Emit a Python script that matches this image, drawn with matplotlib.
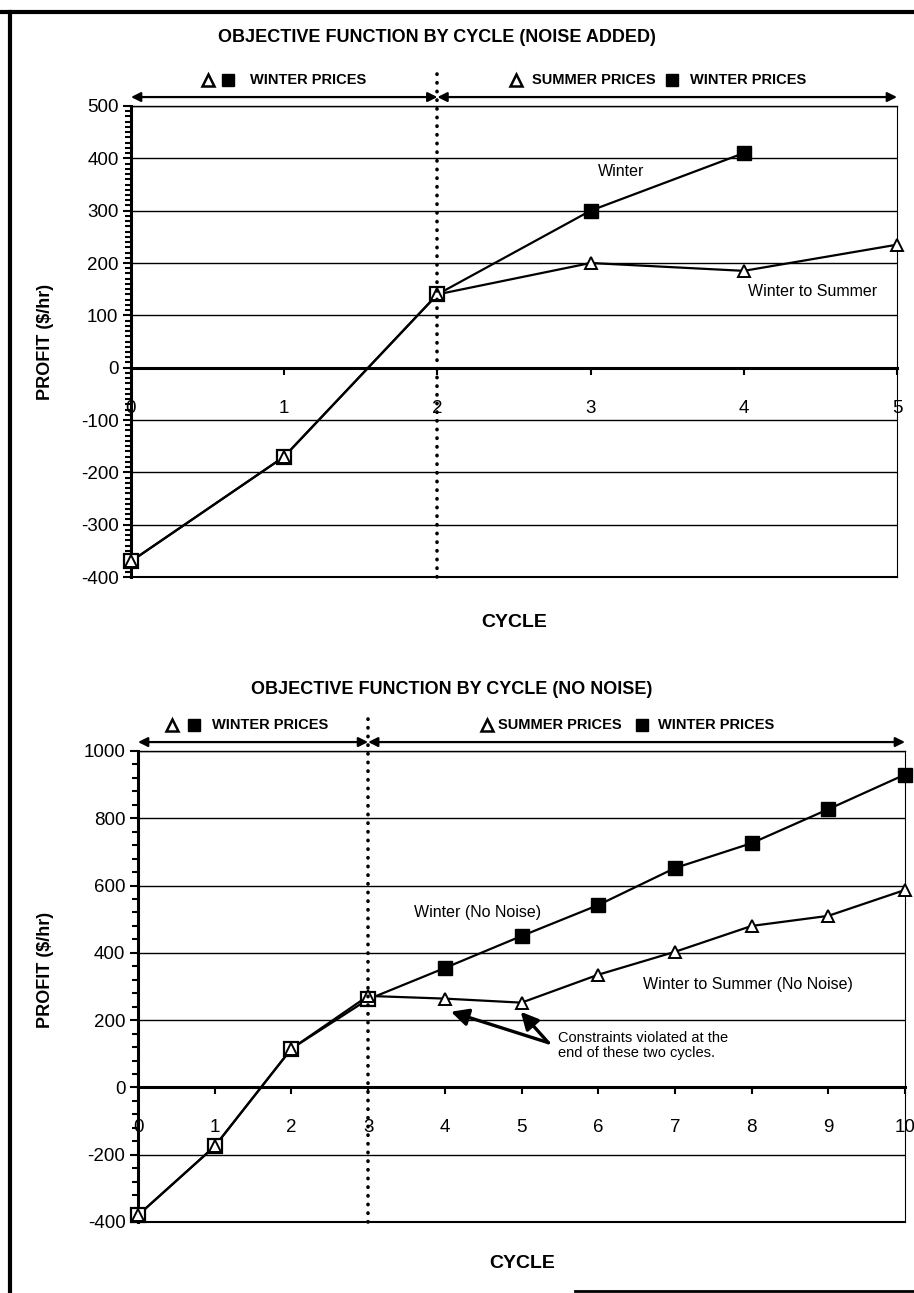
import numpy as np
import matplotlib
matplotlib.use('Agg')
import matplotlib.pyplot as plt
from matplotlib.lines import Line2D
from matplotlib.ticker import MultipleLocator

plt.rcParams['font.family'] = ['Liberation Sans', 'DejaVu Sans']
plt.rcParams['axes.unicode_minus'] = False

# noise added run
cycles_top = [0, 1, 2, 3, 4, 5]
winter_top = [-370, -170, 140, 300, 410]
summer_top = [-370, -170, 140, 200, 185, 235]
switch_top = 2

# no noise run
cycles_bot = [0, 1, 2, 3, 4, 5, 6, 7, 8, 9, 10]
winter_bot = [-380, -175, 115, 262, 355, 450, 542, 652, 726, 827, 930]
summer_bot = [-380, -175, 115, 272, 264, 252, 335, 403, 480, 510, 587]
switch_bot = 3

W, H = 914, 1293
fig = plt.figure(figsize=(W / 100, H / 100), dpi=100)


def fx(px):
    return px / W


def fy(py):
    return 1 - py / H


def draw_panel(ax, cycles, winter, summer, switch, ylim, major, minor, labels):
    x_w = cycles[:len(winter)]
    ax.set_xlim(cycles[0], cycles[-1])
    ax.set_ylim(*ylim)
    ax.yaxis.set_major_locator(MultipleLocator(major))
    ax.yaxis.set_minor_locator(MultipleLocator(minor))
    ax.xaxis.set_major_locator(MultipleLocator(1))
    ax.grid(axis='y', color='black', linewidth=1.0)
    ax.set_axisbelow(True)
    ax.axhline(ylim[0], color='black', linewidth=1.5, clip_on=False)
    ax.spines['bottom'].set_position(('data', 0))
    ax.spines['bottom'].set_linewidth(2.2)
    ax.spines['left'].set_linewidth(2.2)
    ax.spines['right'].set_linewidth(0.8)
    ax.spines['top'].set_linewidth(1.0)
    ax.tick_params(axis='y', which='major', direction='out', length=6, width=1.5,
                   labelsize=13.5, pad=3)
    ax.tick_params(axis='y', which='minor', direction='out', length=4, width=1.5)
    ax.tick_params(axis='x', direction='out', length=5, width=1.5, labelsize=13.5, pad=18)

    # lines
    ax.plot(x_w, winter, color='black', linewidth=1.6, zorder=3)
    ax.plot(cycles, summer, color='black', linewidth=1.6, zorder=3)
    # markers: shared cycles drawn open, winter-only filled squares
    ax.plot(x_w[:switch + 1], winter[:switch + 1], 's', ms=10.5, mfc='white', mec='black',
            mew=1.6, zorder=4, clip_on=False)
    ax.plot(x_w[switch + 1:], winter[switch + 1:], 's', ms=10.5, mfc='black', mec='black',
            zorder=4, clip_on=False)
    ax.plot(cycles, summer, '^', ms=9, mfc='white', mec='black', mew=1.4, zorder=5,
            clip_on=False)

    # switch marker line
    top_y = ylim[1] + (ylim[1] - ylim[0]) * 0.08
    ax.plot([switch, switch], [ylim[0], top_y], color='black', linewidth=2.6,
            linestyle=(0, (0.1, 2.3)), dash_capstyle='round', clip_on=False, zorder=6)

    # price period arrows
    arr_y = ylim[1] + (ylim[1] - ylim[0]) * 0.019
    for x0, x1 in [(cycles[0], switch), (switch, cycles[-1])]:
        ax.annotate('', xy=(x0, arr_y), xytext=(x1, arr_y), annotation_clip=False,
                    arrowprops=dict(arrowstyle='<|-|>', color='black', lw=1.6,
                                    mutation_scale=14, shrinkA=0, shrinkB=0))

    lab_y = ylim[1] + (ylim[1] - ylim[0]) * 0.055
    for x, kind in labels:
        if kind == 'tri':
            ax.plot([x], [lab_y], '^', ms=9, mfc='white', mec='black', mew=1.8, clip_on=False)
        elif kind == 'sq':
            ax.plot([x], [lab_y], 's', ms=9, mfc='black', mec='black', clip_on=False)
        else:
            ax.text(x, lab_y, kind, fontsize=10.5, fontweight='bold', ha='left',
                    va='center')


# top panel
ax1 = fig.add_axes([fx(131), fy(577), fx(897 - 131), (577 - 106) / H])
draw_panel(ax1, cycles_top, winter_top, summer_top, switch_top, (-400, 500), 100, 10,
           [(0.50, 'tri'), (0.63, 'sq'), (0.78, 'WINTER PRICES'),
            (2.51, 'tri'), (2.62, 'SUMMER PRICES'), (3.53, 'sq'), (3.65, 'WINTER PRICES')])
ax1.text(3.2, 375, 'Winter', fontsize=11.5, ha='center', va='center')
ax1.text(4.45, 145, 'Winter to Summer', fontsize=11.5, ha='center', va='center')

# bottom panel
ax2 = fig.add_axes([fx(138), fy(1222), fx(905 - 138), (1222 - 751) / H])
draw_panel(ax2, cycles_bot, winter_bot, summer_bot, switch_bot, (-400, 1000), 200, 40,
           [(0.44, 'tri'), (0.73, 'sq'), (0.96, 'WINTER PRICES'),
            (4.55, 'tri'), (4.70, 'SUMMER PRICES'), (6.57, 'sq'), (6.78, 'WINTER PRICES')])
ax2.text(4.43, 520, 'Winter (No Noise)', fontsize=11.5, ha='center', va='center')
ax2.text(7.95, 305, 'Winter to Summer (No Noise)', fontsize=11.5, ha='center',
         va='center')
ax2.text(5.48, 125, 'Constraints violated at the\nend of these two cycles.',
         fontsize=10.5, ha='left', va='center', linespacing=1.15)
for hx in [4.08, 4.99]:
    ax2.annotate('', xy=(hx, 225), xytext=(5.35, 133),
                 arrowprops=dict(arrowstyle='-|>', color='black', lw=2.4,
                                 mutation_scale=26, shrinkA=0, shrinkB=0))

# titles and axis labels
fig.text(fx(437), fy(38), 'OBJECTIVE FUNCTION BY CYCLE (NOISE ADDED)', fontsize=13,
         fontweight='bold', ha='center', va='center')
fig.text(fx(452), fy(690), 'OBJECTIVE FUNCTION BY CYCLE (NO NOISE)', fontsize=13,
         fontweight='bold', ha='center', va='center')
fig.text(fx(514), fy(622), 'CYCLE', fontsize=14, fontweight='bold', ha='center',
         va='center')
fig.text(fx(522), fy(1263), 'CYCLE', fontsize=14, fontweight='bold', ha='center',
         va='center')
fig.text(fx(45), fy(342), 'PROFIT ($/hr)', fontsize=13, fontweight='bold', rotation=90,
         ha='center', va='center')
fig.text(fx(45), fy(970), 'PROFIT ($/hr)', fontsize=13, fontweight='bold', rotation=90,
         ha='center', va='center')

# page frame
fig.add_artist(Line2D([0, 1], [fy(12), fy(12)], color='black', lw=3,
                      transform=fig.transFigure))
fig.add_artist(Line2D([fx(10), fx(10)], [fy(12), 0], color='black', lw=3,
                      transform=fig.transFigure))
fig.add_artist(Line2D([fx(575), 1], [fy(1291), fy(1291)], color='black', lw=2,
                      transform=fig.transFigure))

fig.savefig('out.png', dpi=100)
